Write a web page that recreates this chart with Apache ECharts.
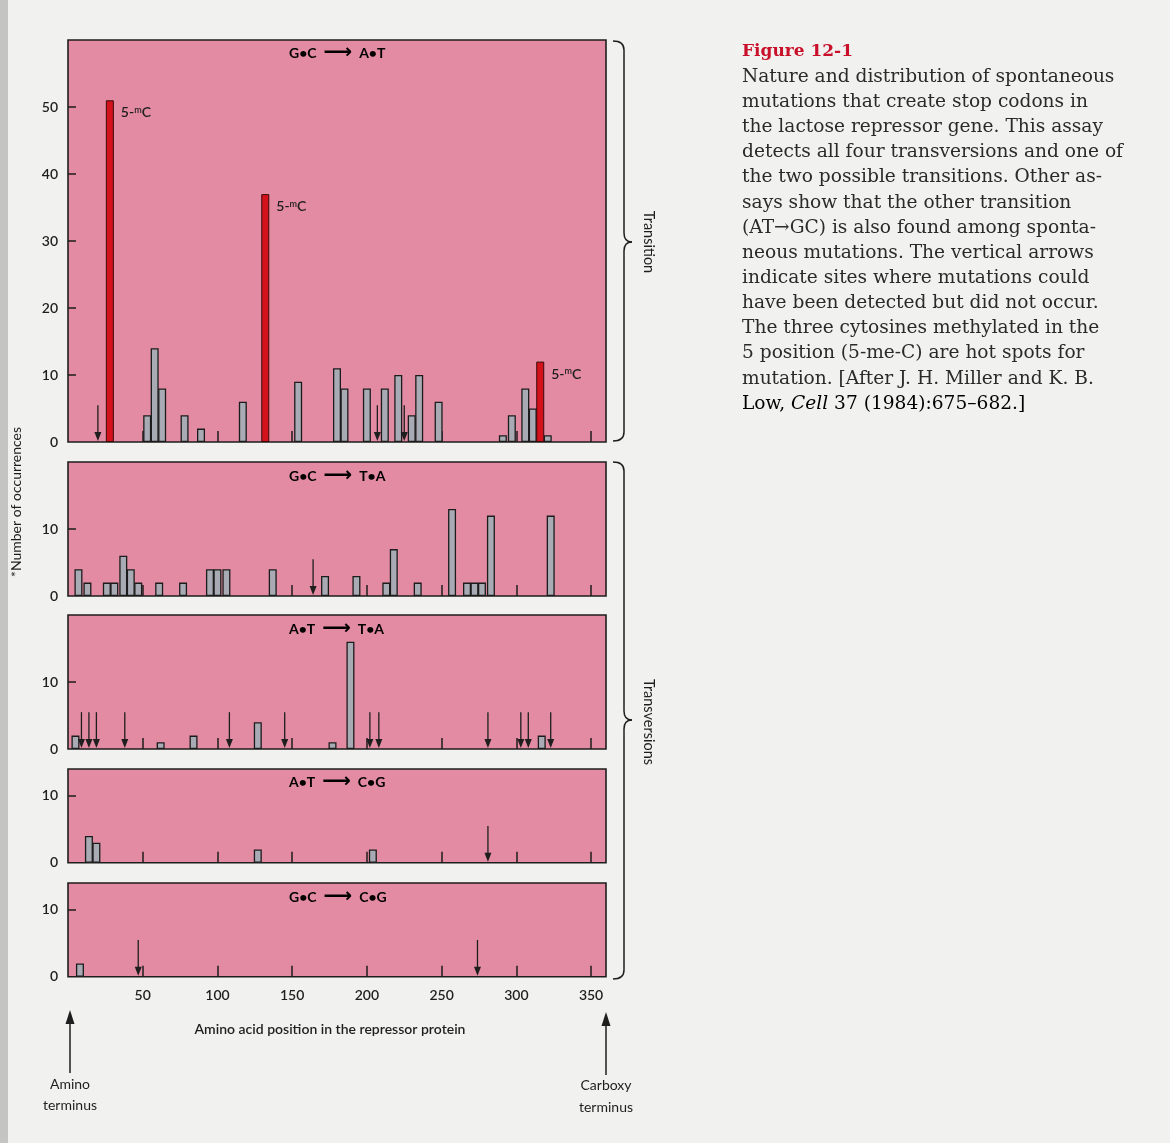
<!DOCTYPE html>
<html><head><meta charset="utf-8">
<script src="https://cdn.jsdelivr.net/npm/echarts@6/dist/echarts.min.js"></script>
<style>html,body{margin:0;padding:0;background:#f1f1ef;}#c{width:1170px;height:1143px;}</style>
</head><body><div id="c"></div><script>
// ---- data ----
const panelNames = [['G•C','A•T'],['G•C','T•A'],['A•T','T•A'],['A•T','C•G'],['G•C','C•G']];
const panelMax = [60, 20, 20, 14, 14];
const yLabels = [[0,10,20,30,40,50],[0,10],[0,10],[0,10],[0,10]];
const xTicks = [50,100,150,200,250,300,350];
// [amino acid position, occurrences]
const gcToAtGrey = [[53,4],[58,14],[63,8],[78,4],[89,2],[117,6],[154,9],[180,11],[185,8],[200,8],[212,8],[221,10],[230,4],[235,10],[248,6],[291,1],[297,4],[306,8],[311,5],[321,1]];
const gcToAtHot = [[28,51],[132,37],[316,12]];
const gcToAtArrows = [20,207,225];
const gcToTaGrey = [[7,4],[13,2],[26,2],[31,2],[37,6],[42,4],[47,2],[61,2],[77,2],[95,4],[100,4],[106,4],[137,4],[172,3],[193,3],[213,2],[218,7],[234,2],[257,13],[267,2],[272,2],[277,2],[283,12],[323,12]];
const gcToTaArrows = [164];
const atToTaGrey = [[5,2],[62,1],[84,2],[127,4],[177,1],[189,16],[317,2]];
const atToTaArrows = [9,14,19,38,108,145,202,208,281,303,308,323];
const atToCgGrey = [[14,4],[19,3],[127,2],[204,2]];
const atToCgArrows = [281];
const gcToCgGrey = [[8,2]];
const gcToCgArrows = [47,274];

const greyData = [gcToAtGrey, gcToTaGrey, atToTaGrey, atToCgGrey, gcToCgGrey];
const arrowData = [gcToAtArrows, gcToTaArrows, atToTaArrows, atToCgArrows, gcToCgArrows];

const captionTitle = 'Figure 12-1';
const captionLines = [
 'Nature and distribution of spontaneous',
 'mutations that create stop codons in',
 'the lactose repressor gene. This assay',
 'detects all four transversions and one of',
 'the two possible transitions. Other as-',
 'says show that the other transition',
 '(AT→GC) is also found among sponta-',
 'neous mutations. The vertical arrows',
 'indicate sites where mutations could',
 'have been detected but did not occur.',
 'The three cytosines methylated in the',
 '5 position (5-me-C) are hot spots for',
 'mutation. [After J. H. Miller and K. B.',
 '{n|Low, }{i|Cell}{n| 37 (1984):675–682.]}'
];

// ---- layout ----
const PINK = '#e28ba2', INK = '#1e1e1e';
const SANS = 'Lato, "DejaVu Sans", sans-serif';
const tops = [40, 462, 615, 769, 883];
const unitPx = 6.7;
const LEFT = 68, WIDTH = 538;

const grids = [], xAxes = [], yAxes = [], series = [];
for (let i = 0; i < 5; i++) {
  grids.push({left: LEFT, top: tops[i], width: WIDTH, height: panelMax[i] * unitPx,
    show: true, backgroundColor: PINK, borderColor: INK, borderWidth: 1.6});
  xAxes.push({gridIndex: i, type: 'value', min: 0, max: 360,
    axisLine: {show: false}, splitLine: {show: false},
    axisTick: {show: true, inside: true, length: 11, customValues: xTicks, lineStyle: {color: INK, width: 1.5}},
    axisLabel: {show: i === 4, customValues: xTicks, color: INK, fontFamily: SANS, fontSize: 14, fontWeight: 600, margin: 12}});
  yAxes.push({gridIndex: i, type: 'value', min: 0, max: panelMax[i],
    axisLine: {show: false}, splitLine: {show: false},
    axisTick: {show: true, inside: true, length: 8, customValues: yLabels[i].filter(v => v > 0), lineStyle: {color: INK, width: 1.5}},
    axisLabel: {customValues: yLabels[i], color: INK, fontFamily: SANS, fontSize: 14, fontWeight: 600, margin: 10}});
  series.push({type: 'bar', xAxisIndex: i, yAxisIndex: i, data: greyData[i], barWidth: 8, barGap: '-100%',
    itemStyle: {color: '#a9abb4', borderColor: '#1c1c1c', borderWidth: 1.3}, z: 3});
  series.push({type: 'custom', xAxisIndex: i, yAxisIndex: i, z: 5,
    data: arrowData[i].map(x => [x, 0]), encode: {x: 0, y: 1},
    renderItem: function (params, api) {
      const p0 = api.coord([api.value(0), 0]);
      const p1 = api.coord([api.value(0), 5.5]);
      return {type: 'group', children: [
        {type: 'line', shape: {x1: p0[0], y1: p1[1], x2: p0[0], y2: p0[1] - 6}, style: {stroke: '#1e1e1e', lineWidth: 1.3}},
        {type: 'polygon', shape: {points: [[p0[0] - 3.5, p0[1] - 10], [p0[0] + 3.5, p0[1] - 10], [p0[0], p0[1] - 1]]}, style: {fill: '#1e1e1e'}}
      ]};
    }});
}
series.push({type: 'bar', xAxisIndex: 0, yAxisIndex: 0, data: gcToAtHot, barWidth: 8, barGap: '-100%', z: 4,
  itemStyle: {color: '#d3121c', borderColor: '#3a0a0a', borderWidth: 1},
  label: {show: true, position: [15, 5], formatter: '{a|5-}{s|m}{a|C}',
    rich: {a: {fontFamily: SANS, fontSize: 14, fontWeight: 600, color: INK}, s: {fontFamily: SANS, fontSize: 9, fontWeight: 600, color: INK, padding: [0, 0, 6, 0]}}}});

// ---- graphics ----
const g = [];
g.push({type: 'rect', shape: {x: 0, y: 0, width: 8, height: 1143}, style: {fill: '#c4c4c2'}, silent: true});
const lblY = [53, 476, 629, 782, 897];
for (let i = 0; i < 5; i++) {
  g.push({type: 'text', x: 289, y: lblY[i], style: {
    text: '{a|' + panelNames[i][0] + '}{b| ⟶ }{a|' + panelNames[i][1] + '}',
    rich: {a: {fontFamily: SANS, fontSize: 14, fontWeight: 'bold', color: INK},
           b: {fontFamily: '"DejaVu Sans"', fontSize: 20, fontWeight: 'bold', color: INK}},
    verticalAlign: 'middle'}});
}
function brace(x0, x1, x2, y0, ym, y1, r) {
  const st = {stroke: INK, lineWidth: 1.5, fill: null};
  g.push({type: 'bezierCurve', shape: {x1: x0, y1: y0, cpx1: x1, cpy1: y0, x2: x1, y2: y0 + r}, style: st});
  g.push({type: 'line', shape: {x1: x1, y1: y0 + r, x2: x1, y2: ym - r}, style: st});
  g.push({type: 'bezierCurve', shape: {x1: x1, y1: ym - r, cpx1: x1, cpy1: ym, x2: x2, y2: ym}, style: st});
  g.push({type: 'bezierCurve', shape: {x1: x2, y1: ym, cpx1: x1, cpy1: ym, x2: x1, y2: ym + r}, style: st});
  g.push({type: 'line', shape: {x1: x1, y1: ym + r, x2: x1, y2: y1 - r}, style: st});
  g.push({type: 'bezierCurve', shape: {x1: x1, y1: y1 - r, cpx1: x1, cpy1: y1, x2: x0, y2: y1}, style: st});
}
brace(613, 624, 632, 41, 242, 441, 9);
brace(613, 624, 632, 462, 720, 979, 9);
g.push({type: 'text', x: 649, y: 242, rotation: -Math.PI / 2, style: {text: 'Transition', fontFamily: SANS, fontSize: 14.5, fill: INK, align: 'center', verticalAlign: 'middle'}});
g.push({type: 'text', x: 649, y: 722, rotation: -Math.PI / 2, style: {text: 'Transversions', fontFamily: SANS, fontSize: 14.5, fill: INK, align: 'center', verticalAlign: 'middle'}});
g.push({type: 'text', x: 16, y: 502, rotation: Math.PI / 2, style: {text: '*Number of occurrences', fontFamily: SANS, fontSize: 14, fill: INK, align: 'center', verticalAlign: 'middle'}});
g.push({type: 'text', x: 330, y: 1029, style: {text: 'Amino acid position in the repressor protein', fontFamily: SANS, fontSize: 14, fontWeight: 600, fill: INK, align: 'center', verticalAlign: 'middle'}});
function upArrow(x, yTip, yEnd) {
  g.push({type: 'line', shape: {x1: x, y1: yEnd, x2: x, y2: yTip + 10}, style: {stroke: INK, lineWidth: 1.5}});
  g.push({type: 'polygon', shape: {points: [[x - 4.5, yTip + 14], [x + 4.5, yTip + 14], [x, yTip]]}, style: {fill: INK}});
}
upArrow(70, 1010, 1073);
upArrow(606, 1012, 1075);
const termStyle = {fontFamily: SANS, fontSize: 14, fill: INK, align: 'center', verticalAlign: 'middle'};
g.push({type: 'text', x: 70, y: 1084, style: Object.assign({text: 'Amino'}, termStyle)});
g.push({type: 'text', x: 70, y: 1105, style: Object.assign({text: 'terminus'}, termStyle)});
g.push({type: 'text', x: 606, y: 1085, style: Object.assign({text: 'Carboxy'}, termStyle)});
g.push({type: 'text', x: 606, y: 1107, style: Object.assign({text: 'terminus'}, termStyle)});
const SERIF = '"DejaVu Serif", serif';
g.push({type: 'text', x: 742, y: 52, style: {text: captionTitle, fontFamily: SERIF, fontWeight: 'bold', fontSize: 17, fill: '#c9102a', verticalAlign: 'middle'}});
const CAP = 18.6;
captionLines.forEach((t, k) => {
  const isRich = t.startsWith('{');
  g.push({type: 'text', x: 742, y: 77 + k * 25.15, style: isRich ? {
      text: t, verticalAlign: 'middle',
      rich: {n: {fontFamily: SERIF, fontSize: CAP, color: '#2a2a2a'}, i: {fontFamily: SERIF, fontSize: CAP, fontStyle: 'italic', color: '#2a2a2a'}}
    } : {text: t, fontFamily: SERIF, fontSize: CAP, fill: '#2a2a2a', verticalAlign: 'middle'}});
});

const chart = echarts.init(document.getElementById('c'), null, {renderer: 'canvas'});
chart.setOption({animation: false, backgroundColor: '#f1f1ef', grid: grids, xAxis: xAxes, yAxis: yAxes, series: series, graphic: g});
</script></body></html>
